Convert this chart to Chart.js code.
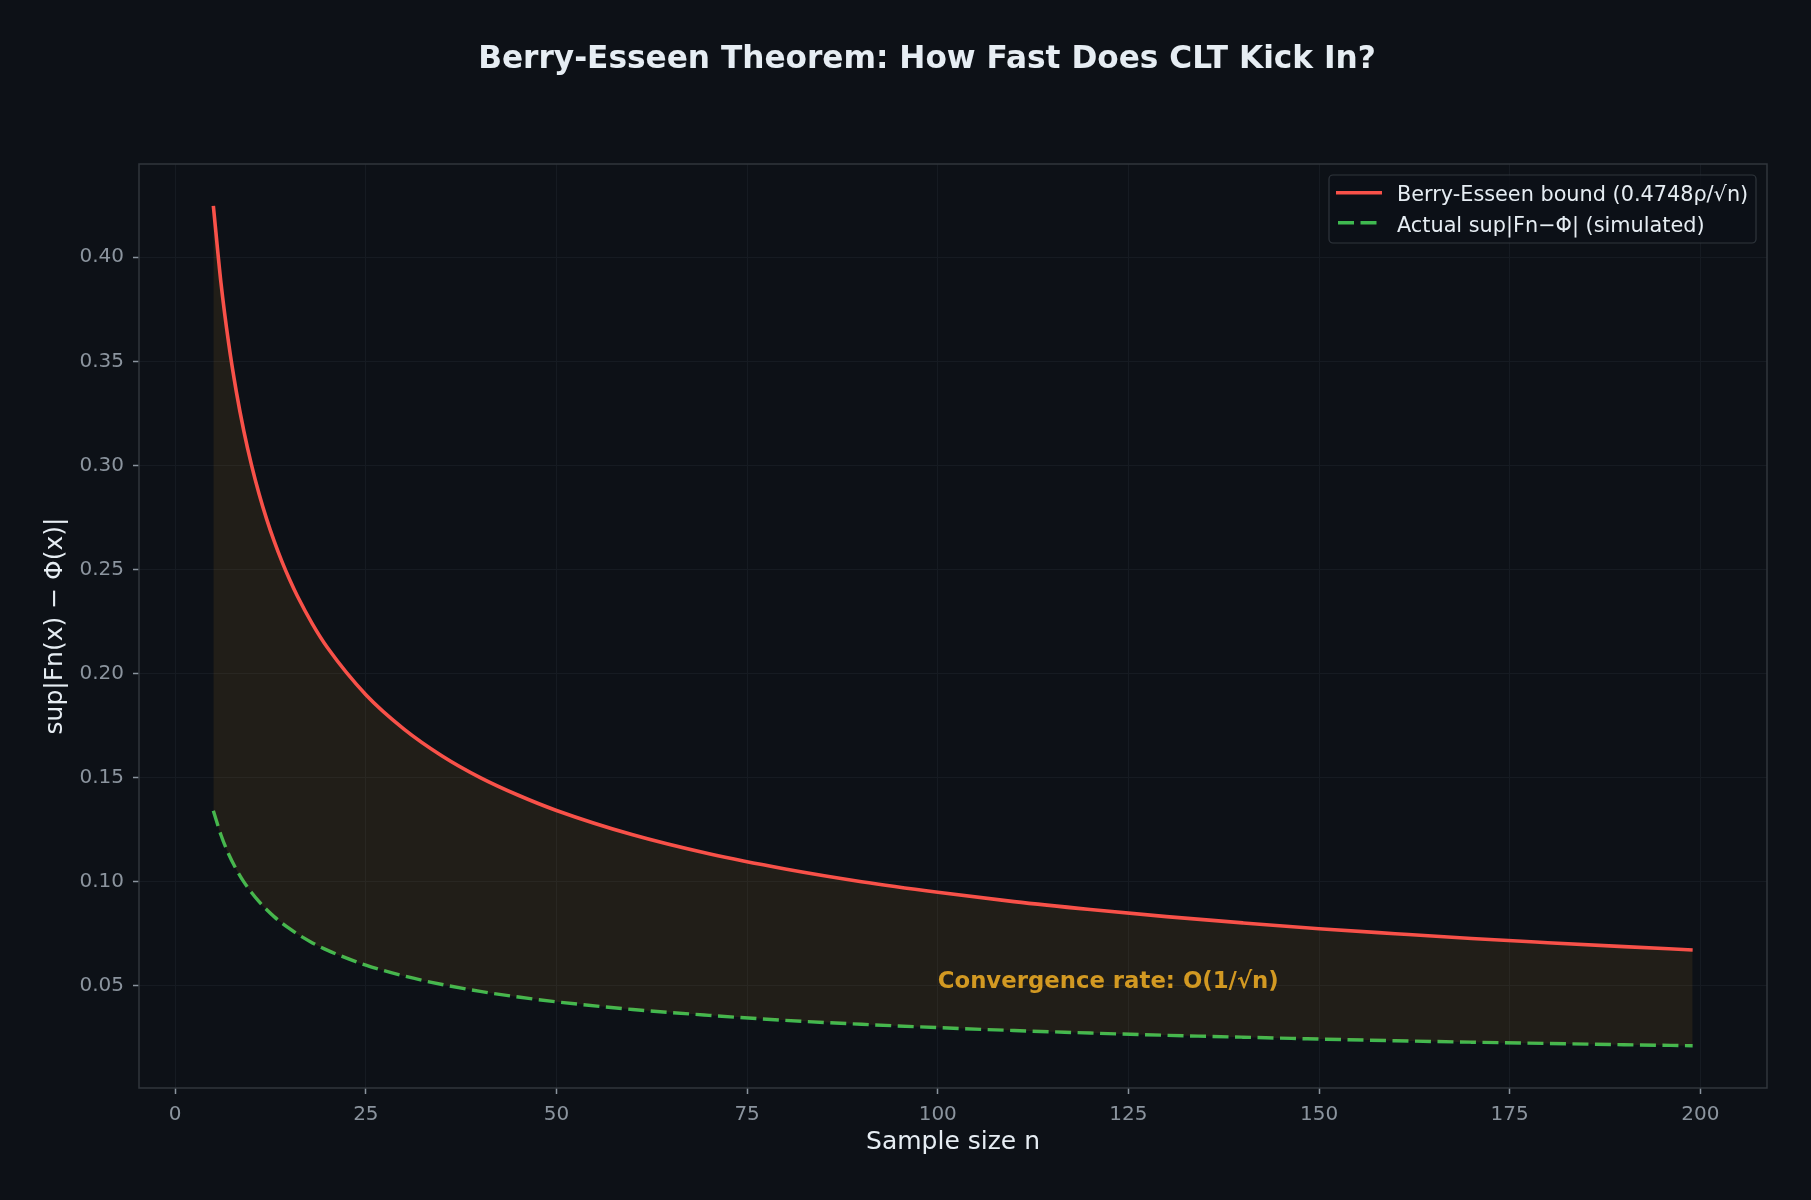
<!DOCTYPE html>
<html>
<head>
<meta charset="utf-8">
<script src="https://cdn.jsdelivr.net/npm/chart.js@4.4.1/dist/chart.umd.min.js"></script>
<style>
  html, body { margin: 0; padding: 0; background: #0d1117; }
  canvas { display: block; }
</style>
</head>
<body>
<canvas id="chart" width="1811" height="1200"></canvas>
<script>
// sample sizes and readings
const nValues = [5, 6, 7, 8, 9, 10, 11, 12, 13, 14, 15, 16, 18, 20, 25, 30, 35, 40, 45, 50,
  60, 70, 80, 90, 100, 110, 120, 130, 140, 150, 160, 170, 180, 190, 199];
const boundValues = [0.4247, 0.3877, 0.3589, 0.3357, 0.3165, 0.3003, 0.2863, 0.2741, 0.2634, 0.2538, 0.2452, 0.2374,
  0.2238, 0.2123, 0.1899, 0.1734, 0.1605, 0.1501, 0.1416, 0.1343,
  0.1226, 0.1135, 0.1062, 0.1001, 0.0950, 0.0905, 0.0867, 0.0833, 0.0803, 0.0775, 0.0751, 0.0728, 0.0708, 0.0689, 0.0673];
const simValues = [0.1342, 0.1225, 0.1134, 0.1061, 0.1000, 0.0949, 0.0905, 0.0866, 0.0832, 0.0802, 0.0775, 0.0750,
  0.0707, 0.0671, 0.0600, 0.0548, 0.0507, 0.0474, 0.0447, 0.0424,
  0.0387, 0.0359, 0.0335, 0.0316, 0.0300, 0.0286, 0.0274, 0.0263, 0.0254, 0.0245, 0.0237, 0.0230, 0.0224, 0.0218, 0.0213];
const xTicks = [0, 25, 50, 75, 100, 125, 150, 175, 200];
const yTicks = [0.05, 0.10, 0.15, 0.20, 0.25, 0.30, 0.35, 0.40];
const seriesLabels = ['Berry-Esseen bound (0.4748ρ/√n)', 'Actual sup|Fn−Φ| (simulated)'];

const FONT = '"DejaVu Sans", sans-serif';
const RED = '#f85149';
const GREEN = '#3fb950';
const DASH = [16, 6.5];

const extras = {
  id: 'extras',
  afterDraw(chart) {
    const ctx = chart.ctx;
    const a = chart.chartArea;
    const xs = chart.scales.x, ys = chart.scales.y;
    ctx.save();

    // frame
    ctx.strokeStyle = '#30363d';
    ctx.lineWidth = 1.5;
    ctx.strokeRect(a.left, a.top, a.right - a.left, a.bottom - a.top);

    // title
    ctx.fillStyle = '#e6edf3';
    ctx.font = 'bold 31.2px ' + FONT;
    ctx.textAlign = 'center';
    ctx.textBaseline = 'alphabetic';
    ctx.fillText('Berry-Esseen Theorem: How Fast Does CLT Kick In?', 927, 68);

    // axis titles
    ctx.textBaseline = 'middle';
    ctx.font = '25px ' + FONT;
    ctx.fillText('Sample size n', (a.left + a.right) / 2, 1142);
    ctx.save();
    ctx.translate(55, (a.top + a.bottom) / 2);
    ctx.rotate(-Math.PI / 2);
    ctx.fillText('sup|Fn(x) − Φ(x)|', 0, 0);
    ctx.restore();

    // annotation
    ctx.fillStyle = '#d29922';
    ctx.font = 'bold 22.8px ' + FONT;
    ctx.textAlign = 'left';
    ctx.textBaseline = 'alphabetic';
    ctx.fillText('Convergence rate: O(1/√n)', xs.getPixelForValue(100), ys.getPixelForValue(0.0489));

    // legend
    const lx = 1329, ly = 175, lw = 427, lh = 68;
    ctx.beginPath();
    ctx.roundRect(lx, ly, lw, lh, 4);
    ctx.fillStyle = 'rgba(13,17,23,0.85)';
    ctx.fill();
    ctx.strokeStyle = '#30363d';
    ctx.lineWidth = 1.2;
    ctx.stroke();

    const rows = [192.7, 222.7];
    ctx.lineWidth = 3.6;
    ctx.strokeStyle = RED;
    ctx.beginPath();
    ctx.moveTo(1336, rows[0]); ctx.lineTo(1382, rows[0]);
    ctx.stroke();
    ctx.lineWidth = 3.4;
    ctx.strokeStyle = GREEN;
    ctx.setLineDash(DASH);
    ctx.beginPath();
    ctx.moveTo(1338, rows[1]); ctx.lineTo(1382, rows[1]);
    ctx.stroke();
    ctx.setLineDash([]);

    ctx.fillStyle = '#e6edf3';
    ctx.font = '20.8px ' + FONT;
    ctx.fillText(seriesLabels[0], 1397, 200.5);
    ctx.fillText(seriesLabels[1], 1397, 231.5);

    ctx.restore();
  }
};

const ctx = document.getElementById('chart').getContext('2d');
const chart = new Chart(ctx, {
  type: 'line',
  data: {
    datasets: [
      {
        label: seriesLabels[0],
        data: nValues.map((n, i) => ({ x: n, y: boundValues[i] })),
        borderColor: RED,
        borderWidth: 3.6,
        backgroundColor: 'rgba(214,150,40,0.1)',
        fill: '+1',
        pointRadius: 0,
        cubicInterpolationMode: 'monotone'
      },
      {
        label: seriesLabels[1],
        data: nValues.map((n, i) => ({ x: n, y: simValues[i] })),
        borderColor: GREEN,
        borderWidth: 3.4,
        borderDash: DASH,
        fill: false,
        pointRadius: 0,
        cubicInterpolationMode: 'monotone'
      }
    ]
  },
  options: {
    responsive: false,
    animation: false,
    devicePixelRatio: 1,
    layout: { padding: { left: 0, right: 44, top: 164, bottom: 0 } },
    plugins: {
      legend: { display: false },
      title: { display: false },
      tooltip: { enabled: false }
    },
    scales: {
      x: {
        type: 'linear',
        min: -4.75,
        max: 208.75,
        afterBuildTicks: s => { s.ticks = xTicks.map(v => ({ value: v })); },
        afterFit: s => { s.height = 112; },
        grid: { color: '#161b22', lineWidth: 1, tickColor: '#8b949e', tickLength: 6, tickWidth: 1.5 },
        border: { display: false },
        ticks: { color: '#8b949e', font: { family: FONT, size: 20 }, padding: 9, maxRotation: 0 }
      },
      y: {
        type: 'linear',
        min: 0.001,
        max: 0.4448,
        afterBuildTicks: s => { s.ticks = yTicks.map(v => ({ value: v })); },
        afterFit: s => { s.width = 139; },
        grid: { color: '#161b22', lineWidth: 1, tickColor: '#8b949e', tickLength: 6, tickWidth: 1.5 },
        border: { display: false },
        ticks: { color: '#8b949e', font: { family: FONT, size: 20 }, padding: 9,
          callback: v => v.toFixed(2) }
      }
    }
  },
  plugins: [extras]
});
</script>
</body>
</html>
